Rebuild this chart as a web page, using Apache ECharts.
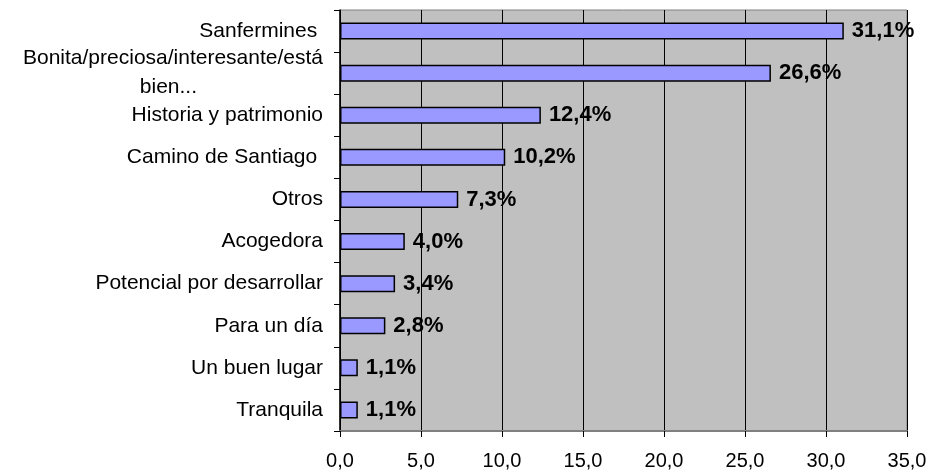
<!DOCTYPE html>
<html>
<head>
<meta charset="utf-8">
<script src="https://cdn.jsdelivr.net/npm/echarts@6/dist/echarts.min.js"></script>
<style>
  html, body { margin: 0; padding: 0; background: #fff; }
  #chart { width: 940px; height: 472px; }
</style>
</head>
<body>
<div id="chart"></div>
<script>
// categorías (de arriba a abajo) y porcentajes
const categories = [
    'Sanfermines ',
    'Bonita/preciosa/interesante/está bien...',
    'Historia y patrimonio',
    'Camino de Santiago ',
    'Otros',
    'Acogedora',
    'Potencial por desarrollar',
    'Para un día',
    'Un buen lugar',
    'Tranquila'
];
const values = [31.1, 26.6, 12.4, 10.2, 7.3, 4.0, 3.4, 2.8, 1.1, 1.1];
const xTicks = [0, 35, 5]; // min, max, intervalo

const fmt = v => v.toFixed(1).replace('.', ',');
const font = 'Liberation Sans, Arial, sans-serif';

const chart = echarts.init(document.getElementById('chart'));
chart.setOption({
    backgroundColor: '#ffffff',
    animation: false,
    grid: {
        left: 340, right: 33, top: 10, bottom: 41,
        show: true,
        backgroundColor: '#c0c0c0',
        borderColor: '#808080',
        borderWidth: 1
    },
    xAxis: {
        type: 'value',
        min: xTicks[0], max: xTicks[1], interval: xTicks[2],
        axisLine: { show: true, lineStyle: { color: '#808080', width: 2 } },
        axisTick: { show: true, length: 6, lineStyle: { color: '#000' } },
        splitLine: { show: true, lineStyle: { color: '#000', width: 1 } },
        axisLabel: {
            color: '#000',
            fontFamily: font,
            fontSize: 20,
            margin: 20,
            formatter: v => fmt(v)
        }
    },
    yAxis: {
        type: 'category',
        data: categories,
        inverse: true,
        axisLine: { show: true, lineStyle: { color: '#000', width: 1.5 } },
        axisTick: { show: true, length: 6, lineStyle: { color: '#000' } },
        axisLabel: {
            color: '#000',
            fontFamily: font,
            fontSize: 21,
            margin: 17,
            formatter: function (v) {
                if (v.indexOf('Bonita') === 0) {
                    return '{a|Bonita/preciosa/interesante/está}\n{b|bien...}';
                }
                return v;
            },
            rich: {
                a: { fontSize: 21, lineHeight: 29, color: '#000', fontFamily: font },
                b: { fontSize: 21, lineHeight: 29, padding: [0, 126, 0, 0], color: '#000', fontFamily: font }
            }
        }
    },
    series: [{
        type: 'bar',
        data: values,
        barWidth: 17,
        itemStyle: { color: '#9999ff', borderColor: '#000', borderWidth: 1.5 },
        label: {
            show: true,
            position: 'right',
            distance: 8,
            color: '#000',
            fontWeight: 'bold',
            fontFamily: font,
            fontSize: 22,
            formatter: p => fmt(p.value) + '%'
        }
    }]
});
</script>
</body>
</html>
